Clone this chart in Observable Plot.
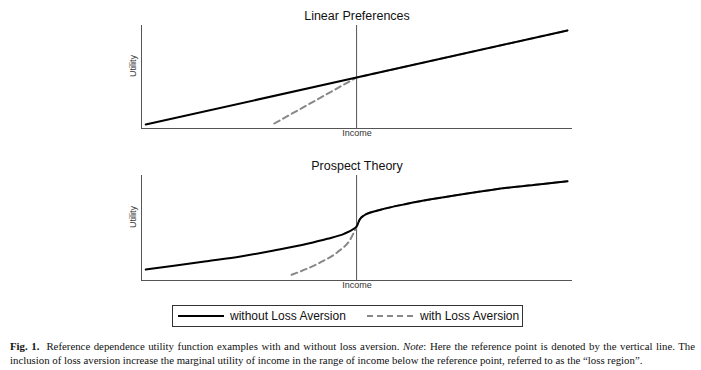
<!DOCTYPE html>
<html>
<head>
<meta charset="utf-8">
<script src="https://cdn.jsdelivr.net/npm/d3@7"></script>
<script src="https://cdn.jsdelivr.net/npm/@observablehq/plot@0.6"></script>
<style>
  html, body { margin: 0; padding: 0; background: #fff; }
  #root { position: relative; width: 701px; height: 370px; overflow: hidden; font-family: "Liberation Sans", Arial, sans-serif; }
  .panel { position: absolute; left: 0; }
  #legend { position: absolute; left: 172px; top: 305px; width: 349px; height: 20px; border: 1px solid #333; box-sizing: content-box; font-size: 12px; color: #111; }
  #legend .item { position: absolute; top: 0; height: 20px; line-height: 20px; white-space: nowrap; }
  #legend svg { position: absolute; top: 0; }
  .cap { position: absolute; left: 10px; width: 685px; font-family: "Liberation Serif", "DejaVu Serif", serif; font-size: 10.8px; color: #111; white-space: nowrap; }
  #cap1 { top: 340px; text-align: justify; text-align-last: justify; }
  #cap2 { top: 354px; }
</style>
</head>
<body>
<div id="root">
  <div id="p1" class="panel" style="top:0px"></div>
  <div id="p2" class="panel" style="top:150px"></div>
  <div id="legend">
    <svg width="50" height="20" style="left:5px"><line x1="0" y1="10" x2="46" y2="10" stroke="#000" stroke-width="2"/></svg>
    <div class="item" style="left:57px">without Loss Aversion</div>
    <svg width="50" height="20" style="left:194px"><line x1="0" y1="10" x2="46" y2="10" stroke="#888" stroke-width="2" stroke-dasharray="6,4"/></svg>
    <div class="item" style="left:247px">with Loss Aversion</div>
  </div>
  <div id="cap1" class="cap"><b>Fig. 1.</b>&nbsp; Reference dependence utility function examples with and without loss aversion. <i>Note</i>: Here the reference point is denoted by the vertical line. The</div>
  <div id="cap2" class="cap">inclusion of loss aversion increase the marginal utility of income in the range of income below the reference point, referred to as the “loss region”.</div>
</div>
<script>
// ---- Data ----
const titles = ["Linear Preferences", "Prospect Theory"];
const xLabel = "Income";
const yLabel = "Utility";

// Linear preferences
const linIncome = [-100, 0, 100];
const linUtil = [4, 51, 98];
const linLAIncome = [-39, 0, 100];
const linLAUtil = [5, 51, 98];

// Prospect theory: loss side (without loss aversion)
const ptLossIncome = [-100, -86.6, -70.8, -55, -39.2, -23.4, -13.9, -6, -1.3, 0];
const ptLossUtil = [11, 14.7, 19.3, 24, 30, 36.7, 41.7, 46.7, 51.7, 54];
// Prospect theory: gain side (shared)
const ptGainIncome = [1.5, 3.5, 11.4, 24, 39.8, 55.6, 71.4, 87.2, 100];
const ptGainUtil = [61, 65, 70.7, 76.7, 82.7, 88, 92.7, 96.3, 99.3];
// Prospect theory: loss side with loss aversion
const ptLALossIncome = [-30.8, -17, -9.1, -2.8, 0];
const ptLALossUtil = [5.7, 18.3, 28.3, 41.7, 54];

const zip = (xs, ys) => xs.map((x, i) => ({x, y: ys[i]}));

function panel(title, solid, dashed, yMax, curve) {
  const xDom = [-102, 102.4];
  return Plot.plot({
    width: 701,
    height: 25 + yMax + 17,
    marginTop: 25,
    marginBottom: 17,
    marginLeft: 141,
    marginRight: 129,
    x: {domain: xDom, axis: null},
    y: {domain: [0, yMax], axis: null},
    style: {fontFamily: "'Liberation Sans', Arial, sans-serif", background: "transparent", overflow: "visible"},
    marks: [
      Plot.ruleX([xDom[0]], {stroke: "#555", strokeWidth: 1}),
      Plot.ruleY([0], {stroke: "#555", strokeWidth: 1}),
      Plot.ruleX([0], {stroke: "#555", strokeWidth: 1}),
      Plot.line(dashed, {x: "x", y: "y", stroke: "#888", strokeWidth: 2, strokeDasharray: "6,4", curve}),
      Plot.line(solid, {x: "x", y: "y", stroke: "#000", strokeWidth: 2, curve}),
      Plot.text([title], {frameAnchor: "top", dy: -14, fontSize: 12.5, fill: "#111"}),
      Plot.text([xLabel], {frameAnchor: "bottom", dy: 7, fontSize: 9, fill: "#333"}),
      Plot.text([yLabel], {frameAnchor: "left", dx: -8, rotate: -90, fontSize: 9, fill: "#333"})
    ]
  });
}

document.getElementById("p1").appendChild(
  panel(titles[0], zip(linIncome, linUtil), zip(linLAIncome, linLAUtil), 103, "linear")
);
document.getElementById("p2").appendChild(
  panel(titles[1],
    zip(ptLossIncome.concat(ptGainIncome), ptLossUtil.concat(ptGainUtil)),
    zip(ptLALossIncome.concat(ptGainIncome), ptLALossUtil.concat(ptGainUtil)),
    105, "monotone-x")
);
</script>
</body>
</html>
